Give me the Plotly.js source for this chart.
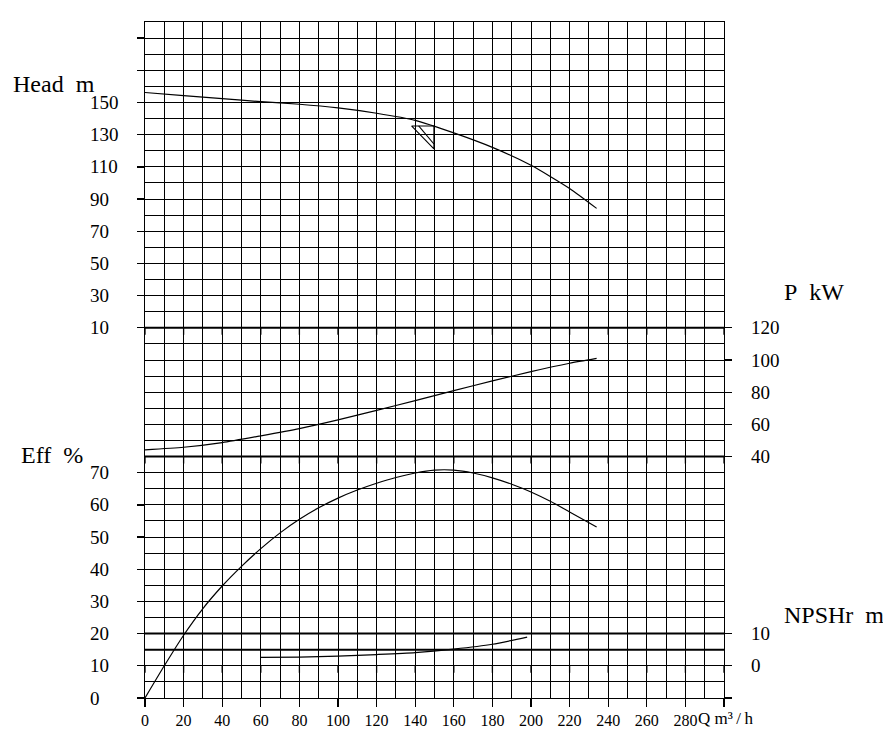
<!DOCTYPE html>
<html>
<head>
<meta charset="utf-8">
<script src="https://cdn.plot.ly/plotly-3.0.1.min.js"></script>
<style>
  html, body { margin: 0; padding: 0; background: #fff; }
  #chart { width: 883px; height: 746px; }
</style>
</head>
<body>
<div id="chart"></div>
<script>
// Flow rate Q (m³/h) tick marks along the bottom
const qTicks = [0, 20, 40, 60, 80, 100, 120, 140, 160, 180, 200, 220, 240, 260, 280, 300];
const qTickText = ['0', '20', '40', '60', '80', '100', '120', '140', '160', '180', '200', '220', '240', '260', '280', ''];

// Head curve (m)
const headQ = [0, 20, 40, 60, 80, 100, 120, 140, 160, 180, 200, 220, 234];
const headH = [156.2, 154.2, 152.4, 150.5, 148.9, 146.6, 143.3, 138.9, 131.1, 122.1, 111, 96.6, 84.2];

// Duty point marker on the head curve
const dutyQ = [138.1, 149.7, 149.7, 138.1];
const dutyH = [135.4, 135.4, 121.1, 135.4];
const dutyInnerQ = [141.8, 149.7];
const dutyInnerH = [135.4, 124.2];

// Shaft power curve (kW)
const powerQ = [0, 20, 40, 60, 80, 100, 120, 140, 160, 180, 200, 220, 234];
const powerP = [44.2, 45.8, 48.7, 52.9, 57.4, 62.8, 68.7, 74.8, 81.0, 87.0, 92.8, 98.0, 101];

// Efficiency curve (%)
const effQ = [0, 10, 20, 30, 40, 50, 60, 70, 80, 90, 100, 110, 120, 130, 140, 150, 160, 170, 180, 190, 200, 210, 220, 234];
const effE = [0, 10, 19.5, 27.8, 34.8, 40.9, 46.4, 51.3, 55.5, 59.1, 62.1, 64.6, 66.7, 68.5, 69.9, 70.8, 70.8, 69.9, 68.4, 66.4, 64, 61.1, 57.8, 53.1];

// NPSHr curve (m)
const npshQ = [60, 80, 100, 120, 140, 160, 180, 198];
const npshN = [2.6, 2.7, 3.0, 3.5, 4.1, 5.2, 6.7, 8.9];

// Scale tick values and labels
const headTickMarks = [10, 30, 50, 70, 90, 110, 130, 150, 170, 190];
const headLabels = [10, 30, 50, 70, 90, 110, 130, 150];
const effLabels = [0, 10, 20, 30, 40, 50, 60, 70];
const powerLabels = [40, 60, 80, 100, 120];
const npshTickMarks = [-10, 0, 10];
const npshLabels = [0, 10];

// The chart is a 42-row grid; each scale maps onto a band of rows
const ROWS = 42;
const FONT = 'Liberation Serif, Times New Roman, serif';
const INK = '#000';

function curve(x, y, yaxis) {
  return {
    type: 'scatter', mode: 'lines', x: x, y: y, xaxis: 'x', yaxis: yaxis,
    line: { color: INK, width: 1.2, shape: 'spline', smoothing: 0.6 },
    hoverinfo: 'skip', showlegend: false
  };
}
function plain(x, y, yaxis) {
  return {
    type: 'scatter', mode: 'lines', x: x, y: y, xaxis: 'x', yaxis: yaxis,
    line: { color: INK, width: 1.1 }, hoverinfo: 'skip', showlegend: false
  };
}

const traces = [
  curve(headQ, headH, 'y2'),
  plain(dutyQ, dutyH, 'y2'),
  plain(dutyInnerQ, dutyInnerH, 'y2'),
  curve(effQ, effE, 'y3'),
  curve(powerQ, powerP, 'y4'),
  curve(npshQ, npshN, 'y5')
];

function scaleAxis(side, range, tickvals) {
  return {
    overlaying: 'y', side: side, range: range, anchor: 'x',
    tickvals: tickvals, showticklabels: false,
    ticks: 'outside', ticklen: 7, tickwidth: 1.3, tickcolor: INK,
    showgrid: false, zeroline: false, showline: false, fixedrange: true
  };
}

const annotations = [];
function label(text, yref, y, side) {
  annotations.push({
    text: String(text), xref: 'paper', x: side === 'left' ? 0 : 1,
    xshift: side === 'left' ? -57 : 25, xanchor: 'left',
    yref: yref, y: y, yanchor: 'middle', showarrow: false,
    font: { family: FONT, size: 19, color: INK }
  });
}
headLabels.forEach(v => label(v, 'y2', v, 'left'));
effLabels.forEach(v => label(v, 'y3', v, 'left'));
powerLabels.forEach(v => label(v, 'y4', v, 'right'));
npshLabels.forEach(v => label(v, 'y5', v, 'right'));

function title(text, xshift, x, y, size) {
  annotations.push({
    text: text, xref: 'paper', x: x, xshift: xshift, xanchor: 'left',
    yref: 'paper', y: y / ROWS, yanchor: 'middle', showarrow: false,
    font: { family: FONT, size: size, color: INK }
  });
}
title('Head\u00a0\u00a0m', -134, 0, 38.15, 24);
title('Eff\u00a0\u00a0%', -126, 0, 15.1, 24);
title('P\u00a0\u00a0kW', 58, 1, 25.2, 24);
title('NPSHr\u00a0\u00a0m', 58, 1, 5.15, 24);
title('Q\u00a0m\u00b3\u2009/\u2009h', 551, 0, -1.3, 17);

// Heavier rule lines separating the scale bands
const boldRows = [23, 15, 4, 3];
const shapes = boldRows.map(r => ({
  type: 'line', xref: 'paper', x0: 0, x1: 1, yref: 'y', y0: r, y1: r,
  line: { color: INK, width: 2 }
}));
// Short downward tick stubs on the band rules
const stubRows = [23, 15, 2];
stubRows.forEach(r => qTicks.forEach(q => shapes.push({
  type: 'line', xref: 'x', x0: q, x1: q,
  yref: 'y', ysizemode: 'pixel', yanchor: r, y0: 0, y1: -7,
  line: { color: INK, width: 1.3 }
})));

const layout = {
  width: 883, height: 746,
  margin: { l: 145, r: 159, t: 22, b: 48, pad: 0 },
  paper_bgcolor: '#fff', plot_bgcolor: '#fff',
  showlegend: false,
  font: { family: FONT, color: INK },
  xaxis: {
    range: [0, 300], tickvals: qTicks, ticktext: qTickText,
    ticks: 'outside', ticklen: 8, tickwidth: 1.3, tickcolor: INK,
    tickfont: { family: FONT, size: 16, color: INK },
    showgrid: true, gridcolor: INK, gridwidth: 1,
    minor: { dtick: 10, tick0: 0, showgrid: true, gridcolor: INK, gridwidth: 1, ticks: '' },
    showline: true, mirror: true, linecolor: INK, linewidth: 1.2,
    zeroline: false, fixedrange: true
  },
  yaxis: {
    range: [0, ROWS], dtick: 1, tick0: 0, showticklabels: false, ticks: '',
    showgrid: true, gridcolor: INK, gridwidth: 1,
    showline: true, mirror: true, linecolor: INK, linewidth: 1.2,
    zeroline: false, fixedrange: true
  },
  yaxis2: scaleAxis('left', [-220, 200], headTickMarks),
  yaxis3: scaleAxis('left', [0, 210], effLabels),
  yaxis4: scaleAxis('right', [-110, 310], powerLabels),
  yaxis5: scaleAxis('right', [-10, 200], npshTickMarks),
  annotations: annotations,
  shapes: shapes
};

Plotly.newPlot('chart', traces, layout, { displayModeBar: false, staticPlot: true });
</script>
</body>
</html>
